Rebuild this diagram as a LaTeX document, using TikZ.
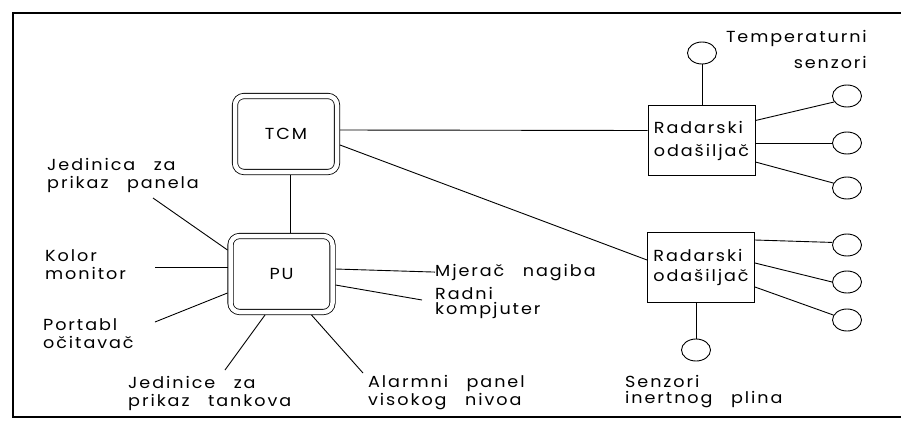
\documentclass[tikz,border=0pt]{standalone}
\usepackage{fontspec}
\setmainfont{Poppins}[FakeStretch=1.1,LetterSpace=12,WordSpace=2.8]
\usetikzlibrary{shapes.geometric}

\newcommand{\slova}{\fontsize{16}{18}\selectfont}

\tikzset{
  okvir/.style={line width=1.4pt},
  veza/.style={line width=0.9pt},
  jedinica/.style={draw, double, double distance=4.5pt, line width=0.8pt,
    rounded corners=9pt, minimum width=102pt, minimum height=76pt,
    outer sep=3pt, font=\slova},
  odasiljac/.style={draw, line width=0.9pt, minimum width=107pt,
    minimum height=70pt, align=left, font=\slova},
  senzor/.style={draw, ellipse, line width=0.9pt, minimum width=29pt,
    minimum height=22pt, inner sep=0pt},
  oznaka/.style={inner sep=0pt, align=left, font=\slova}
}

\begin{document}
\begin{tikzpicture}[x=1pt,y=-1pt]
    \useasboundingbox (0,0) rectangle (901,421);
    % Okvir
    \draw[okvir] (901,13) -- (13,13) -- (13,417) -- (901,417);

    % Jedinice
    \node[jedinica] (tcm) at (286,134) {TCM};
    \node[jedinica] (pu) at (281.5,274) {PU};
    \node[odasiljac] (rad1) at (701.5,140.5) {Radarski\\[5pt]odašiljač};
    \node[odasiljac] (rad2) at (701,267) {Radarski\\[2pt]odašiljač};

    % Senzori
    \node[senzor] (s0) at (702,53) {};
    \foreach \i/\y in {1/96, 2/143, 3/188}
        \node[senzor] (s\i) at (847,\y) {};
    \foreach \i/\y in {1/245, 2/282, 3/320}
        \node[senzor] (t\i) at (847,\y) {};
    \node[senzor] (s4) at (696,350) {};

    % Oznake
    \node[oznaka, align=right, anchor=north east] (temp) at (867,30) {Temperaturni\\[8pt]senzori};
    \node[oznaka, anchor=north west] (panel) at (47,158) {Jedinica za\\prikaz panela};
    \node[oznaka, anchor=north west] (kolor) at (45,249) {Kolor\\monitor};
    \node[oznaka, anchor=north west] (portabl) at (43,318) {Portabl\\očitavač};
    \node[oznaka, anchor=north west] (tankovi) at (128,376) {Jedinice za\\prikaz tankova};
    \node[oznaka, anchor=north west] (alarm) at (368,375) {Alarmni panel\\visokog nivoa};
    \node[oznaka, anchor=base west] (mjerac) at (435,276) {Mjerač nagiba};
    \node[oznaka, anchor=north west] (radni) at (435,287) {Radni\\[-3pt]kompjuter};
    \node[oznaka, anchor=north west] (inert) at (625,375) {Senzori\\[-2pt]inertnog plina};

    % Krajevi veza
    \coordinate (k-panel) at (153,198);
    \coordinate (k-kolor) at (155,267);
    \coordinate (k-portabl) at (155,322);
    \coordinate (k-tankovi) at (225,370);
    \coordinate (k-alarm) at (363,373);
    \coordinate (k-radni) at (422,300);

    % Veze
    \draw[veza] ([xshift=4pt]tcm.south) -- ([xshift=8.5pt]pu.north);
    \draw[veza] ([yshift=4pt]tcm.east) -- ([yshift=10pt]rad1.west);
    \draw[veza] ([yshift=-11pt]tcm.east) -- ([yshift=7pt]rad2.west);
    \draw[veza] (rad1.north -| s0) -- (s0.south);
    \draw[veza] ([yshift=20pt]rad1.east) -- (s1.205);
    \draw[veza] ([yshift=-2.5pt]rad1.east) -- (s2.west);
    \draw[veza] ([yshift=-21.5pt]rad1.east) -- (s3.160);
    \draw[veza] ([yshift=27pt]rad2.east) -- (t1.170);
    \draw[veza] ([yshift=4pt]rad2.east) -- (t2.west);
    \draw[veza] ([yshift=-20pt]rad2.east) -- (t3.160);
    \draw[veza] (rad2.south -| s4) -- (s4.north);

    \draw[veza] (k-panel) -- ([yshift=24pt]pu.west);
    \draw[veza] (k-kolor) -- ([yshift=7pt]pu.west);
    \draw[veza] (k-portabl) -- ([yshift=-19pt]pu.west);
    \draw[veza] (k-tankovi) -- ([xshift=-16.5pt]pu.south);
    \draw[veza] (k-alarm) -- ([xshift=30pt]pu.south);
    \draw[veza] ([yshift=5pt]pu.east) -- (mjerac.west);
    \draw[veza] ([yshift=-11pt]pu.east) -- (k-radni);
\end{tikzpicture}
\end{document}
